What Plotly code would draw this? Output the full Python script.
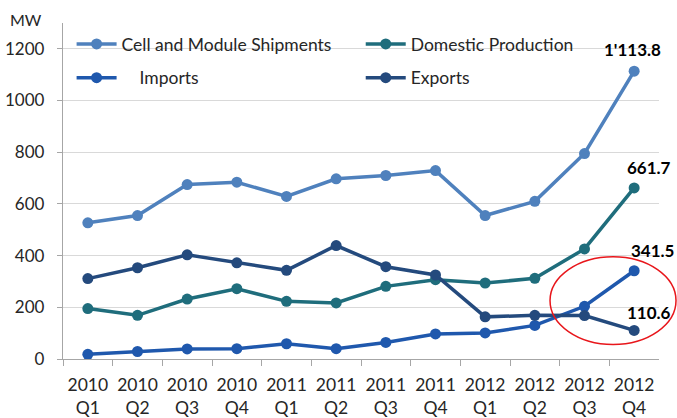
import plotly.graph_objects as go

quarters = ["2010<br>Q1", "2010<br>Q2", "2010<br>Q3", "2010<br>Q4",
            "2011<br>Q1", "2011<br>Q2", "2011<br>Q3", "2011<br>Q4",
            "2012<br>Q1", "2012<br>Q2", "2012<br>Q3", "2012<br>Q4"]

cell_module = [527, 555, 675, 684, 629, 697, 710, 729, 555, 610, 795, 1113.8]
domestic = [195, 169, 232, 272, 223, 217, 281, 307, 294, 312, 426, 661.7]
imports = [18, 29, 39, 40, 59, 40, 64, 97, 101, 130, 204, 341.5]
exports = [311, 353, 403, 372, 343, 439, 357, 325, 163, 169, 168, 110.6]

y_ticks = [0, 200, 400, 600, 800, 1000, 1200]

FONT = "Lato"
TXT = "#262626"

series = [
    ("Cell and Module Shipments", cell_module, "#4F81BD", "legend"),
    ("\u00a0\u00a0\u00a0\u00a0Imports", imports, "#1F58AD", "legend"),
    ("Domestic Production", domestic, "#1F6D7C", "legend2"),
    ("Exports", exports, "#244A7D", "legend2"),
]

fig = go.Figure()
for i, (name, vals, color, leg) in enumerate(series):
    fig.add_trace(go.Scatter(
        x=quarters, y=vals, name=name, mode="lines+markers",
        line=dict(color=color, width=3.5),
        marker=dict(color=color, size=11),
        legend=leg, legendgroup=f"g{i}", cliponaxis=False,
    ))

# empty helper trace so an overlay subplot spanning to the right edge exists
fig.add_trace(go.Scatter(x=[None], y=[None], xaxis="x2", yaxis="y2",
                         showlegend=False, hoverinfo="skip"))


def fmt(v):
    s = f"{v:,.1f}"
    return s.replace(",", "'")


label_shift = [(-2, 22), (15, 20), (18, 20), (15, 18)]
for vals, (dx, dy) in zip([cell_module, domestic, imports, exports], label_shift):
    fig.add_annotation(
        x=quarters[-1], y=vals[-1], text=f"<b>{fmt(vals[-1])}</b>",
        showarrow=False, xshift=dx, yshift=dy,
        font=dict(family=FONT, size=17, color="black"),
    )

fig.add_annotation(
    xref="paper", yref="paper", x=-0.0603, y=1.011, xanchor="center", yanchor="middle",
    text="MW", showarrow=False, font=dict(family=FONT, size=16, color=TXT),
)

fig.add_shape(
    type="circle", xref="x2", yref="y2",
    x0=0.7932, x1=0.9984, y0=0.043, y1=0.3045,
    line=dict(color="#E8161B", width=1.5),
)

legend_common = dict(
    orientation="v", yanchor="top", xanchor="left", bgcolor="rgba(0,0,0,0)",
    font=dict(family=FONT, size=17.5, color=TXT), tracegroupgap=8,
    itemwidth=40,
)

fig.update_layout(
    width=677, height=418,
    margin=dict(l=63, r=0, t=23, b=59, autoexpand=False),
    paper_bgcolor="white", plot_bgcolor="rgba(0,0,0,0)",
    font=dict(family=FONT, size=16, color=TXT),
    legend=dict(x=0.014, y=0.991, **legend_common),
    legend2=dict(x=0.4849, y=0.991, **legend_common),
    xaxis=dict(
        domain=[0, 0.97068],
        range=[-0.5, 11.5], showgrid=False, showline=True, linecolor="#A6A6A6",
        linewidth=1.3, ticks="outside", tickson="boundaries", ticklen=6,
        tickcolor="#A6A6A6", tickfont=dict(family=FONT, size=17.5, color=TXT),
        ticklabelstandoff=10, automargin=False,
    ),
    yaxis=dict(
        range=[0, 1300], tickvals=y_ticks, showgrid=True, gridcolor="#D9D9D9",
        gridwidth=1, showline=True, linecolor="#A6A6A6", linewidth=1.3,
        ticks="outside", ticklen=5, tickcolor="#A6A6A6", zeroline=False,
        tickfont=dict(family=FONT, size=17, color=TXT), ticklabelstandoff=9,
        automargin=False,
    ),
    xaxis2=dict(domain=[0, 1], anchor="y2", range=[0, 1], visible=False,
                fixedrange=True),
    yaxis2=dict(domain=[0, 1], anchor="x2", range=[0, 1], visible=False,
                fixedrange=True),
    showlegend=True,
)

fig.write_html(
    "out.html",
    config={"displayModeBar": False},
    post_script="document.body.style.margin='0';document.body.style.overflow='hidden';",
)
